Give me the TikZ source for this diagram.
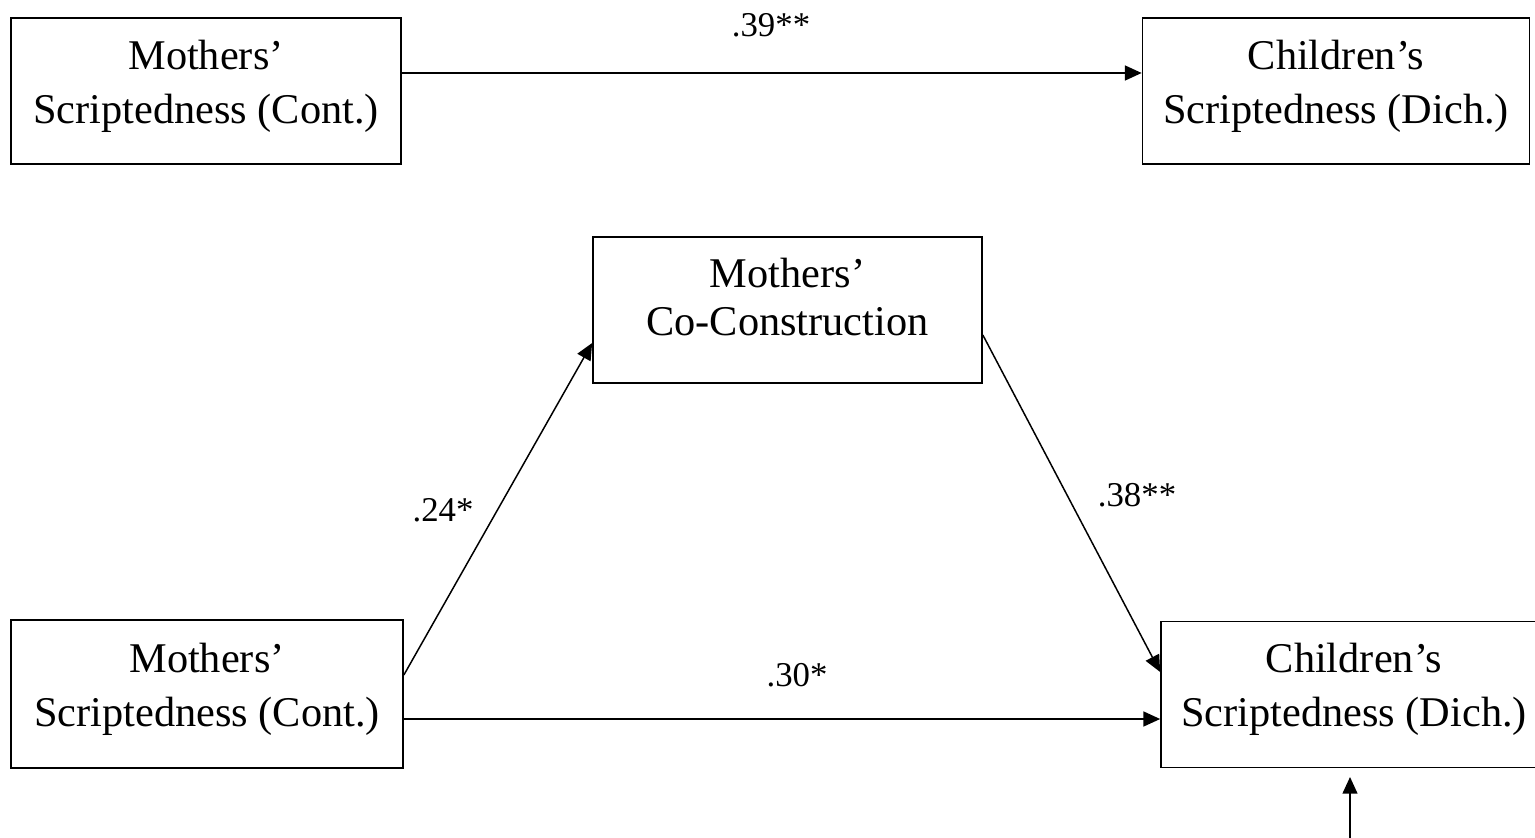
\documentclass[tikz,border=0pt]{standalone}
\usepackage{fontspec}
\setmainfont{Liberation Serif}
\usetikzlibrary{arrows.meta}

\newcommand{\upstrut}{\rule{0pt}{22pt}}
\newcommand{\dnstrut}[1]{\rule[-#1]{0pt}{#1}}

\begin{document}
\begin{tikzpicture}[x=0.02cm, y=-0.02cm,
    box/.style={draw, line width=1pt, minimum height=2.92cm, inner sep=0pt, align=center,
        font=\fontsize{24.1}{30.9}\selectfont},
    coef/.style={inner sep=0pt, font=\fontsize{19.8}{22}\selectfont},
    arr/.style={line width=0.85pt, -{Triangle[length=9.5pt, width=8.5pt]}}]
    \useasboundingbox (0,0) rectangle (1535,838);

    \node[box, minimum width=7.8cm] (tm) at (206,91) {\upstrut Mothers’\\Scriptedness (Cont.)\dnstrut{16pt}};
    \node[box, minimum width=7.74cm] (tc) at (1336,91) {\upstrut Children’s\\Scriptedness (Dich.)\dnstrut{16pt}};

    \node[box, minimum width=7.78cm, font=\fontsize{24.1}{27.2}\selectfont] (co) at (787.5,310) {\upstrut Mothers’\\Co-Construction\dnstrut{20.7pt}};
    \node[box, minimum width=7.84cm, minimum height=2.96cm] (bm) at (207,694) {\upstrut Mothers’\\Scriptedness (Cont.)\dnstrut{16pt}};
    \node[box, minimum width=7.72cm] (bc) at (1354,694.5) {\upstrut Children’s\\Scriptedness (Dich.)\dnstrut{16pt}};

    \draw[arr] (tm.east |- 0,73) -- (tc.west |- 0,73);
    \draw[arr] (bm.east |- 0,675) -- (co.west |- 0,343);
    \draw[arr] (co.east |- 0,335) -- (bc.west |- 0,672);
    \draw[arr] (bm.east |- 0,719) -- (bc.west |- 0,719);
    \coordinate (err) at (1350,845);
    \draw[arr] (err) -- (err |- 0,777);

    \node[coef] (c1) at (771,25) {.39**};
    \node[coef] (c2) at (443,510) {.24*};
    \node[coef] (c3) at (1137,495) {.38**};
    \node[coef] (c4) at (797,675) {.30*};

\end{tikzpicture}
\end{document}
